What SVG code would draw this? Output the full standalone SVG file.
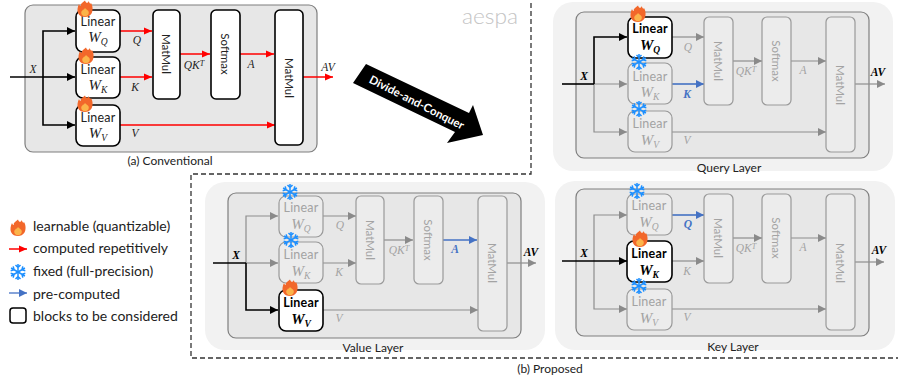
<svg xmlns="http://www.w3.org/2000/svg" width="898" height="383" viewBox="0 0 898 383">
<style>
text{font-family:"Lato","Liberation Sans",sans-serif;font-size:13px;fill:#222}
.bg{fill:#f2f2f2}
.panel{fill:#e7e7e7;stroke:#7f7f7f;stroke-width:1.2}
.on{fill:#fff;stroke:#000;stroke-width:1.6}
.off{fill:#ececec;stroke:#999;stroke-width:1.2}
.l{font-size:12.5px;text-anchor:middle;letter-spacing:.2px}
.w{font-family:"Liberation Serif",serif;font-style:italic;font-size:15px;text-anchor:middle}
.m{font-family:"Liberation Serif",serif;font-style:italic;font-size:11.5px;text-anchor:middle}
.r{font-size:11.5px;text-anchor:middle;dominant-baseline:central}
.g text,text.g{fill:#a3a3a3}
.b{font-weight:700;fill:#000}
.mb{font-weight:700;fill:#000}
.mbl{font-weight:700;fill:#4472c4}
.cap{font-size:12px;text-anchor:middle}
.leg{font-size:14px}
.k,.kg,.kr,.kb{fill:none}
.k{stroke:#000;stroke-width:1.6}
.kg{stroke:#8e8e8e;stroke-width:1.2}
.kr{stroke:#f00;stroke-width:1.5;marker-end:url(#mr)}
.kb{stroke:#4472c4;stroke-width:1.6;marker-end:url(#mb)}
.ka{marker-end:url(#mk)}
.kga{marker-end:url(#mg)}
.dash{fill:none;stroke:#333;stroke-width:1.3;stroke-dasharray:5 3}
</style>
<defs>
<marker id="mk" markerUnits="userSpaceOnUse" markerWidth="9" markerHeight="8" refX="8" refY="4" orient="auto"><path d="M0 0L8 4L0 8z" fill="#000"/></marker>
<marker id="mg" markerUnits="userSpaceOnUse" markerWidth="9" markerHeight="8" refX="8" refY="4" orient="auto"><path d="M0 0L8 4L0 8z" fill="#8a8a8a"/></marker>
<marker id="mr" markerUnits="userSpaceOnUse" markerWidth="9" markerHeight="8" refX="8" refY="4" orient="auto"><path d="M0 .5L8 4L0 7.5z" fill="#f00"/></marker>
<marker id="mb" markerUnits="userSpaceOnUse" markerWidth="9" markerHeight="8" refX="8" refY="4" orient="auto"><path d="M0 0L8 4L0 8z" fill="#4472c4"/></marker>
<g id="flame">
<path d="M0-8.500C1-5.500 3-5.500 3.800-8C4.500-5.500 5.500-4.500 6-6C8-3 8 2 6.500 4.500C5 7 2.500 8 0 8C-3 8-5.500 7-7 4C-8 1.500-7.500-2-6-5C-5.500-3.500-5-3-4.300-3C-4.800-5-2.500-6.500 0-8.500z" fill="#f2672a"/>
<path d="M0-1C1 .5 3.800 1 3.800 3.800C3.800 5.800 2 7.200 0 7.200C-2 7.200-3.800 5.800-3.800 3.800C-3.800 2-2.700 2-2 .5C-1.500 1-1 .5 0-1z" fill="#fbb44a"/>
</g>
<g id="snow" fill="none" stroke="#1e90ff" stroke-width="1.5">
<g id="sp"><path d="M0-8V8M-2.500-7L0-4.500L2.500-7M-2.500 7L0 4.500L2.500 7"/></g>
<use href="#sp" transform="rotate(60)"/>
<use href="#sp" transform="rotate(120)"/>
</g>
</defs>
<rect width="898" height="383" fill="#fff"/>

<rect class="bg" x="553" y="2" width="340" height="169" rx="20"/>
<rect class="bg" x="205" y="182" width="340" height="168" rx="20"/>
<rect class="bg" x="555" y="181" width="340" height="169" rx="20"/>
<rect class="panel" x="25" y="5" width="292" height="147" rx="8"/>
<rect class="panel" x="576" y="12" width="293" height="146" rx="8"/>
<rect class="panel" x="228" y="193" width="293" height="145" rx="8"/>
<rect class="panel" x="576" y="189" width="293" height="147" rx="8"/>

<g id="connectors">
<path class="k" d="M10 77H43"/>
<path class="k ka" d="M43 77V31H75"/>
<path class="k ka" d="M43 77H75"/>
<path class="k ka" d="M43 77V125H75"/>
<path class="kr" d="M120 31H152"/>
<path class="kr" d="M120 77H152"/>
<path class="kr" d="M120 125H275"/>
<path class="kr" d="M180 54H210"/>
<path class="kr" d="M240 54H274"/>
<path class="kr" d="M303 77H333"/>

<path class="kg kga" d="M594 84H627"/>
<path class="kg kga" d="M594 84V132H627"/>
<path class="k" d="M562 84H594"/>
<path class="k ka" d="M594 84V37H627"/>
<path class="kg kga" d="M672 37H704"/>
<path class="kb" d="M672 84H704"/>
<path class="kg kga" d="M672 132H826"/>
<path class="kg kga" d="M733 61H762"/>
<path class="kg kga" d="M791 61H826"/>
<path class="kg kga" d="M855 84H885"/>

<path class="kg kga" d="M246 263V216H278"/>
<path class="kg kga" d="M246 263H278"/>
<path class="k" d="M213 263H246"/>
<path class="k ka" d="M246 263V310H278"/>
<path class="kg kga" d="M323 216H356"/>
<path class="kg kga" d="M323 263H356"/>
<path class="kg kga" d="M323 310H478"/>
<path class="kg kga" d="M384 240H413"/>
<path class="kb" d="M443 240H477"/>
<path class="kg kga" d="M507 263H536"/>

<path class="kg kga" d="M594 261V215H627"/>
<path class="kg kga" d="M594 261V309H627"/>
<path class="k ka" d="M562 261H627"/>
<path class="kb" d="M672 215H704"/>
<path class="kg kga" d="M672 261H704"/>
<path class="kg kga" d="M672 309H826"/>
<path class="kg kga" d="M733 238H762"/>
<path class="kg kga" d="M791 238H826"/>
<path class="kg kga" d="M855 262H884"/>

<path d="M366 64L353 83L455 132L447 143L483 135L473 105L469 113z" fill="#000"/>
<path class="dash" d="M531 3V174H191V358H898"/>
</g>

<g id="conv-wq"><rect class="on" x="76" y="10" width="44" height="42" rx="7"/><text class="l" x="98" y="26">Linear</text><text class="w" x="98" y="42">W<tspan dy="3" font-size="9.500">Q</tspan></text><use href="#flame" x="85" y="9"/></g>
<g id="conv-wk"><rect class="on" x="76" y="57" width="44" height="41" rx="7"/><text class="l" x="98" y="74">Linear</text><text class="w" x="98" y="90">W<tspan dy="3" font-size="9.500">K</tspan></text><use href="#flame" x="86" y="56"/></g>
<g id="conv-wv"><rect class="on" x="76" y="105" width="44" height="41" rx="7"/><text class="l" x="98" y="122">Linear</text><text class="w" x="98" y="138">W<tspan dy="3" font-size="9.500">V</tspan></text><use href="#flame" x="85" y="104"/></g>
<g id="conv-matmul1"><rect class="on" x="153" y="10" width="27" height="89" rx="5"/><text class="r" transform="translate(166.500 54) rotate(90)">MatMul</text></g>
<g id="conv-softmax"><rect class="on" x="211" y="10" width="29" height="89" rx="5"/><text class="r" transform="translate(225.500 54) rotate(90)">Softmax</text></g>
<g id="conv-matmul2"><rect class="on" x="275" y="10" width="28" height="135" rx="5"/><text class="r" transform="translate(289 78) rotate(90)">MatMul</text></g>
<text class="m" x="33" y="73">X</text><text class="m" x="137" y="44">Q</text><text class="m" x="135" y="91">K</text><text class="m" x="135" y="137">V</text><text class="m" x="194" y="69">QK<tspan dy="-3" font-size="8">T</tspan></text><text class="m" x="251" y="68">A</text><text class="m" x="328" y="71">AV</text>
<text class="cap" x="170" y="165">(a) Conventional</text>

<g id="query-wq"><rect class="on" x="628" y="17" width="44" height="41" rx="7" stroke-width="2"/><text class="l b" x="650" y="33">Linear</text><text class="w b" x="650" y="50">W<tspan dy="3" font-size="9.500">Q</tspan></text><use href="#flame" x="638" y="14"/></g>
<g id="query-wk" class="g"><rect class="off" x="628" y="63" width="44" height="41" rx="7"/><text class="l" x="650" y="81">Linear</text><text class="w" x="650" y="97">W<tspan dy="3" font-size="9.500">K</tspan></text><use href="#snow" x="639" y="62"/></g>
<g id="query-wv" class="g"><rect class="off" x="628" y="111" width="44" height="41" rx="7"/><text class="l" x="650" y="128">Linear</text><text class="w" x="650" y="145">W<tspan dy="3" font-size="9.500">V</tspan></text><use href="#snow" x="639" y="109"/></g>
<g id="query-matmul1" class="g"><rect class="off" x="704" y="17" width="29" height="88" rx="5"/><text class="r" transform="translate(718.500 61) rotate(90)">MatMul</text></g>
<g id="query-softmax" class="g"><rect class="off" x="762" y="17" width="29" height="88" rx="5"/><text class="r" transform="translate(776.500 61) rotate(90)">Softmax</text></g>
<g id="query-matmul2" class="g"><rect class="off" x="826" y="17" width="29" height="135" rx="5"/><text class="r" transform="translate(840.500 85) rotate(90)">MatMul</text></g>
<text class="m mb" x="584" y="80">X</text><text class="m g" x="688" y="51">Q</text><text class="m mbl" x="687" y="98">K</text><text class="m g" x="687" y="144">V</text><text class="m g" x="746" y="75">QK<tspan dy="-3" font-size="8">T</tspan></text><text class="m g" x="803" y="74">A</text><text class="m mb" x="878" y="76">AV</text>
<text class="cap" x="729" y="172">Query Layer</text>

<g id="value-wq" class="g"><rect class="off" x="279" y="196" width="44" height="41" rx="7"/><text class="l" x="301" y="212">Linear</text><text class="w" x="301" y="229">W<tspan dy="3" font-size="9.500">Q</tspan></text><use href="#snow" x="290" y="192"/></g>
<g id="value-wk" class="g"><rect class="off" x="279" y="242" width="44" height="41" rx="7"/><text class="l" x="301" y="259">Linear</text><text class="w" x="301" y="276">W<tspan dy="3" font-size="9.500">K</tspan></text><use href="#snow" x="291" y="240"/></g>
<g id="value-wv"><rect class="on" x="279" y="290" width="44" height="41" rx="7" stroke-width="2"/><text class="l b" x="301" y="307">Linear</text><text class="w b" x="301" y="324">W<tspan dy="3" font-size="9.500">V</tspan></text><use href="#flame" x="290" y="288"/></g>
<g id="value-matmul1" class="g"><rect class="off" x="356" y="196" width="28" height="88" rx="5"/><text class="r" transform="translate(370 240) rotate(90)">MatMul</text></g>
<g id="value-softmax" class="g"><rect class="off" x="414" y="196" width="29" height="88" rx="5"/><text class="r" transform="translate(428.500 240) rotate(90)">Softmax</text></g>
<g id="value-matmul2" class="g"><rect class="off" x="478" y="196" width="29" height="135" rx="5"/><text class="r" transform="translate(492.500 263) rotate(90)">MatMul</text></g>
<text class="m mb" x="236" y="259">X</text><text class="m g" x="340" y="229">Q</text><text class="m g" x="339" y="276">K</text><text class="m g" x="339" y="322">V</text><text class="m g" x="399" y="254">QK<tspan dy="-3" font-size="8">T</tspan></text><text class="m mbl" x="455" y="253">A</text><text class="m mb" x="531" y="256">AV</text>
<text class="cap" x="373" y="352">Value Layer</text>

<g id="key-wq" class="g"><rect class="off" x="627" y="194" width="45" height="41" rx="7"/><text class="l" x="649" y="210">Linear</text><text class="w" x="649" y="227">W<tspan dy="3" font-size="9.500">Q</tspan></text><use href="#snow" x="637" y="191"/></g>
<g id="key-wk"><rect class="on" x="627" y="241" width="45" height="41" rx="7" stroke-width="2"/><text class="l b" x="649" y="258">Linear</text><text class="w b" x="649" y="275">W<tspan dy="3" font-size="9.500">K</tspan></text><use href="#flame" x="640" y="239"/></g>
<g id="key-wv" class="g"><rect class="off" x="627" y="289" width="45" height="41" rx="7"/><text class="l" x="649" y="306">Linear</text><text class="w" x="649" y="323">W<tspan dy="3" font-size="9.500">V</tspan></text><use href="#snow" x="639" y="286"/></g>
<g id="key-matmul1" class="g"><rect class="off" x="704" y="194" width="29" height="89" rx="5"/><text class="r" transform="translate(718.500 238) rotate(90)">MatMul</text></g>
<g id="key-softmax" class="g"><rect class="off" x="762" y="194" width="29" height="89" rx="5"/><text class="r" transform="translate(776.500 238) rotate(90)">Softmax</text></g>
<g id="key-matmul2" class="g"><rect class="off" x="826" y="194" width="29" height="136" rx="5"/><text class="r" transform="translate(840.500 263) rotate(90)">MatMul</text></g>
<text class="m mb" x="584" y="257">X</text><text class="m mbl" x="688" y="228">Q</text><text class="m g" x="687" y="275">K</text><text class="m g" x="687" y="321">V</text><text class="m g" x="746" y="252">QK<tspan dy="-3" font-size="8">T</tspan></text><text class="m g" x="803" y="251">A</text><text class="m mb" x="879" y="254">AV</text>
<text class="cap" x="733" y="351">Key Layer</text>

<text transform="translate(417 102) rotate(27)" text-anchor="middle" dominant-baseline="central" font-weight="700" style="fill:#fff;font-size:11.5px">Divide-and-Conquer</text>
<text x="462" y="24" textLength="56" lengthAdjust="spacingAndGlyphs" style="fill:#c4c4c4;font-size:22px;font-weight:300">aespa</text>
<text class="cap" x="550" y="373">(b) Proposed</text>

<g id="legend">
<use href="#flame" x="18" y="228"/>
<text class="leg" x="33" y="231">learnable (quantizable)</text>
<path class="kr" d="M9 249H27"/>
<text class="leg" x="33" y="253">computed repetitively</text>
<use href="#snow" x="18" y="272"/>
<text class="leg" x="33" y="276">fixed (full-precision)</text>
<path class="kb" d="M9 293H27" style="stroke-width:1.3px"/>
<text class="leg" x="33" y="299">pre-computed</text>
<rect x="10" y="308" width="16" height="15" rx="3" fill="#fff" stroke="#000" stroke-width="1.5"/>
<text class="leg" x="33" y="321">blocks to be considered</text>
</g>
</svg>
